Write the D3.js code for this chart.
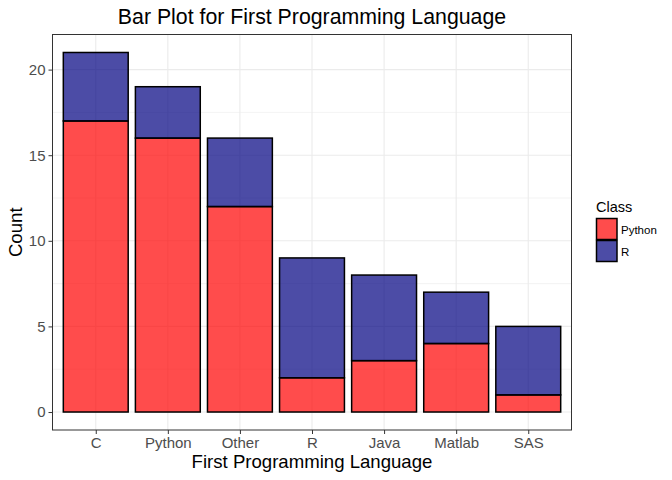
<!DOCTYPE html>
<html>
<head>
<meta charset="utf-8">
<script src="https://cdn.jsdelivr.net/npm/d3@7"></script>
<style>
  body { margin: 0; background: #fff; }
  text { font-family: "Liberation Sans", Arial, sans-serif; }
</style>
</head>
<body>
<svg id="chart" width="672" height="480"></svg>
<script>
const categories = ["C", "Python", "Other", "R", "Java", "Matlab", "SAS"];
const pythonCounts = [17, 16, 12, 2, 3, 4, 1];
const rCounts = [4, 3, 4, 7, 5, 3, 4];
const seriesNames = ["Python", "R"];
const yTicks = [0, 5, 10, 15, 20];
const yMinor = [2.5, 7.5, 12.5, 17.5];
const colors = { Python: "#FF0000", R: "#000080" };

const svg = d3.select("#chart");
const W = 672, H = 480;
const panel = { left: 52.5, right: 571.5, top: 34.5, bottom: 430 };

const rows = categories.map((c, i) => ({ cat: c, Python: pythonCounts[i], R: rCounts[i] }));
const stacked = d3.stack().keys(seriesNames)(rows);
const maxTotal = d3.max(rows, d => d.Python + d.R);

const y = d3.scaleLinear()
  .domain([-0.05 * maxTotal, maxTotal * 1.05])
  .range([panel.bottom, panel.top]);

// discrete scale with 0.6 expansion each side
const step = (panel.right - panel.left) / (categories.length - 1 + 1.2);
const xCenter = d3.scalePoint().domain(categories)
  .range([panel.left + 0.6 * step, panel.right - 0.6 * step]);
const barW = 0.9 * step;

svg.append("rect").attr("x", 0).attr("y", 0).attr("width", W).attr("height", H).attr("fill", "#fff");

// grid
const g = svg.append("g");
g.selectAll("line.minor").data(yMinor).join("line")
  .attr("x1", panel.left).attr("x2", panel.right)
  .attr("y1", d => y(d)).attr("y2", d => y(d))
  .attr("stroke", "#EBEBEB").attr("stroke-width", 0.6);
g.selectAll("line.majy").data(yTicks).join("line")
  .attr("x1", panel.left).attr("x2", panel.right)
  .attr("y1", d => y(d)).attr("y2", d => y(d))
  .attr("stroke", "#EBEBEB").attr("stroke-width", 1.1);
g.selectAll("line.majx").data(categories).join("line")
  .attr("x1", d => xCenter(d)).attr("x2", d => xCenter(d))
  .attr("y1", panel.top).attr("y2", panel.bottom)
  .attr("stroke", "#EBEBEB").attr("stroke-width", 1.1);

// bars
stacked.forEach(series => {
  svg.append("g").selectAll("rect").data(series).join("rect")
    .attr("x", d => xCenter(d.data.cat) - barW / 2)
    .attr("width", barW)
    .attr("y", d => y(d[1]))
    .attr("height", d => y(d[0]) - y(d[1]))
    .attr("fill", colors[series.key])
    .attr("fill-opacity", 0.7)
    .attr("stroke", "#000")
    .attr("stroke-width", 1.5);
});

// panel border
svg.append("rect")
  .attr("x", panel.left).attr("y", panel.top)
  .attr("width", panel.right - panel.left).attr("height", panel.bottom - panel.top)
  .attr("fill", "none").attr("stroke", "#333333").attr("stroke-width", 1);

// axes
const yAxis = d3.axisLeft(y).tickValues(yTicks).tickSize(4).tickPadding(3);
const ya = svg.append("g").attr("transform", `translate(${panel.left},0)`).call(yAxis);
ya.select(".domain").remove();
ya.selectAll(".tick line").attr("stroke", "#333333");
ya.selectAll(".tick text").attr("fill", "#4D4D4D").style("font-size", "15px")
  .style("font-family", "'Liberation Sans', Arial, sans-serif");

const xAxis = d3.axisBottom(xCenter).tickSize(4).tickPadding(3);
const xa = svg.append("g").attr("transform", `translate(0,${panel.bottom})`).call(xAxis);
xa.select(".domain").remove();
xa.selectAll(".tick line").attr("stroke", "#333333");
xa.selectAll(".tick text").attr("fill", "#4D4D4D").style("font-size", "15px")
  .style("font-family", "'Liberation Sans', Arial, sans-serif");

// titles
svg.append("text").attr("x", (panel.left + panel.right) / 2).attr("y", 23.5)
  .attr("text-anchor", "middle").style("font-size", "21.3px").attr("fill", "#000")
  .text("Bar Plot for First Programming Language");
svg.append("text").attr("x", (panel.left + panel.right) / 2).attr("y", 467.5)
  .attr("text-anchor", "middle").style("font-size", "18.6px").attr("fill", "#000")
  .text("First Programming Language");
svg.append("text")
  .attr("transform", `translate(21.5,${(panel.top + panel.bottom) / 2}) rotate(-90)`)
  .attr("text-anchor", "middle").style("font-size", "18.6px").attr("fill", "#000")
  .text("Count");

// legend
const lg = svg.append("g").attr("transform", "translate(596,0)");
lg.append("text").attr("x", 0).attr("y", 212).style("font-size", "14.5px").attr("fill", "#000").text("Class");
seriesNames.forEach((s, i) => {
  const ky = 218.5 + i * 22;
  lg.append("rect").attr("x", 0.5).attr("y", ky).attr("width", 20.5).attr("height", 21)
    .attr("fill", "#fff");
  lg.append("rect").attr("x", 0.5).attr("y", ky).attr("width", 20.5).attr("height", 21)
    .attr("fill", colors[s]).attr("fill-opacity", 0.7)
    .attr("stroke", "#000").attr("stroke-width", 1.5);
  lg.append("text").attr("x", 25).attr("y", ky + 15).style("font-size", "11.5px").attr("fill", "#000").text(s);
});
</script>
</body>
</html>
